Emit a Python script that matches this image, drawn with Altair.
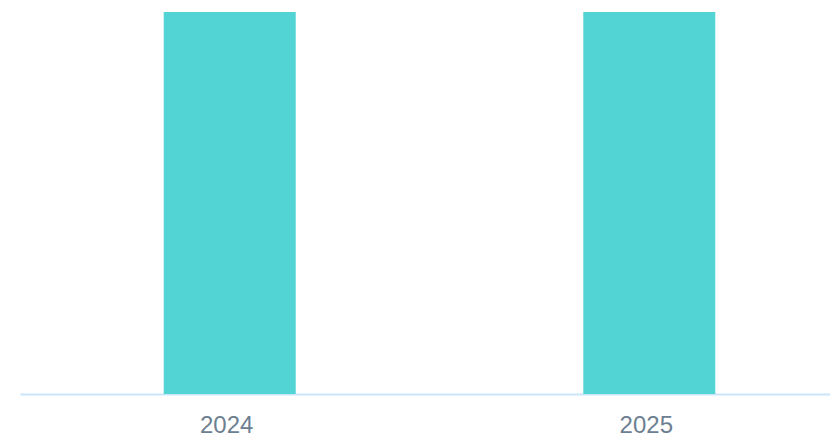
import altair as alt
import pandas as pd

years = ["2024", "2025"]
values = [100, 100]

df = pd.DataFrame({"year": years, "value": values})

chart = (
    alt.Chart(df)
    .mark_bar(color="#52d3d4")
    .encode(
        x=alt.X(
            "year:N",
            sort=years,
            title=None,
            scale=alt.Scale(range=[0, 839], paddingInner=0.6854, paddingOuter=0.3425),
            axis=alt.Axis(
                labelAngle=0,
                labelFont="Liberation Sans",
                labelFontSize=24,
                labelColor="#6d8091",
                labelPadding=19,
                labelOffset=-3,
                ticks=False,
                domainColor="#c8e6fa",
                domainWidth=2,
                grid=False,
            ),
        ),
        y=alt.Y(
            "value:Q",
            title=None,
            scale=alt.Scale(domain=[0, 100], nice=False),
            axis=None,
        ),
    )
    .properties(
        width=810,
        height=382,
        autosize=alt.AutoSizeParams(type="none"),
        padding={"left": 12, "top": 4, "right": 0, "bottom": 46},
    )
    .configure_view(stroke=None)
)

chart.save("out.html", embed_options={"renderer": "svg", "actions": False})
